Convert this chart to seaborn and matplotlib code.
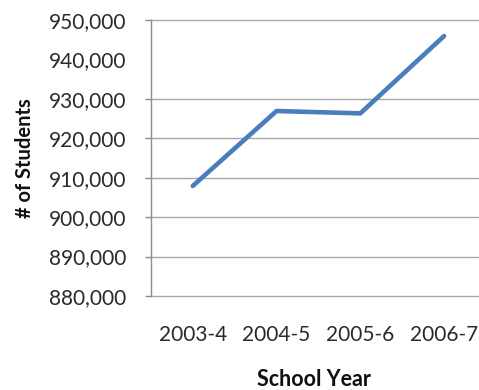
import matplotlib
matplotlib.use("Agg")
import matplotlib.pyplot as plt
import matplotlib.ticker as mticker
import seaborn as sns
import pandas as pd

# Enrollment by school year
school_years = ["2003-4", "2004-5", "2005-6", "2006-7"]
students = [907900, 926900, 926300, 945900]
y_ticks = [880000, 890000, 900000, 910000, 920000, 930000, 940000, 950000]
ruled_levels = [880000, 890000, 900000, 910000, 920000, 930000, 950000]

df = pd.DataFrame({"School Year": school_years, "# of Students": students})

sns.set_theme(style="white")
plt.rcParams["font.family"] = ["Lato", "DejaVu Sans"]

fig = plt.figure(figsize=(4.79, 3.90), dpi=100)
ax = fig.add_axes([0.315, 0.241, 0.682, 0.708])

# horizontal rules (no rule at 940,000)
for lvl in ruled_levels:
    ax.axhline(lvl, color="#a6a6a6", linewidth=1.0, clip_on=False, zorder=0)

sns.lineplot(data=df, x="School Year", y="# of Students", ax=ax,
             color="#4a7ebb", linewidth=3.3, sort=False,
             solid_capstyle="round", zorder=3)

ax.set_xlim(-0.5, 3.4)
ax.set_ylim(880000, 950000)
ax.set_yticks(y_ticks)
ax.yaxis.set_major_formatter(mticker.FuncFormatter(lambda v, p: f"{int(v):,}"))

for s in ["top", "right", "bottom"]:
    ax.spines[s].set_visible(False)
ax.spines["left"].set_color("#8c8c8c")
ax.spines["left"].set_linewidth(1.0)

ax.tick_params(axis="y", which="major", left=True, length=4, width=1,
               color="#8c8c8c", labelsize=15, labelcolor="#2a2a2a", pad=13.5)
ax.tick_params(axis="x", which="major", bottom=False, labelsize=15,
               labelcolor="#2a2a2a", pad=15)

fig.canvas.draw()
for t in ax.yaxis.get_major_ticks():
    if abs(t.get_loc() - 940000) < 1:
        t.tick1line.set_visible(False)

ax.set_xlabel("School Year", fontsize=15.5, fontweight="bold", color="#111111", labelpad=17)
ax.set_ylabel("# of Students", fontsize=14.5, fontweight="bold", color="#111111", labelpad=10)

fig.savefig("out.png", dpi=100)
